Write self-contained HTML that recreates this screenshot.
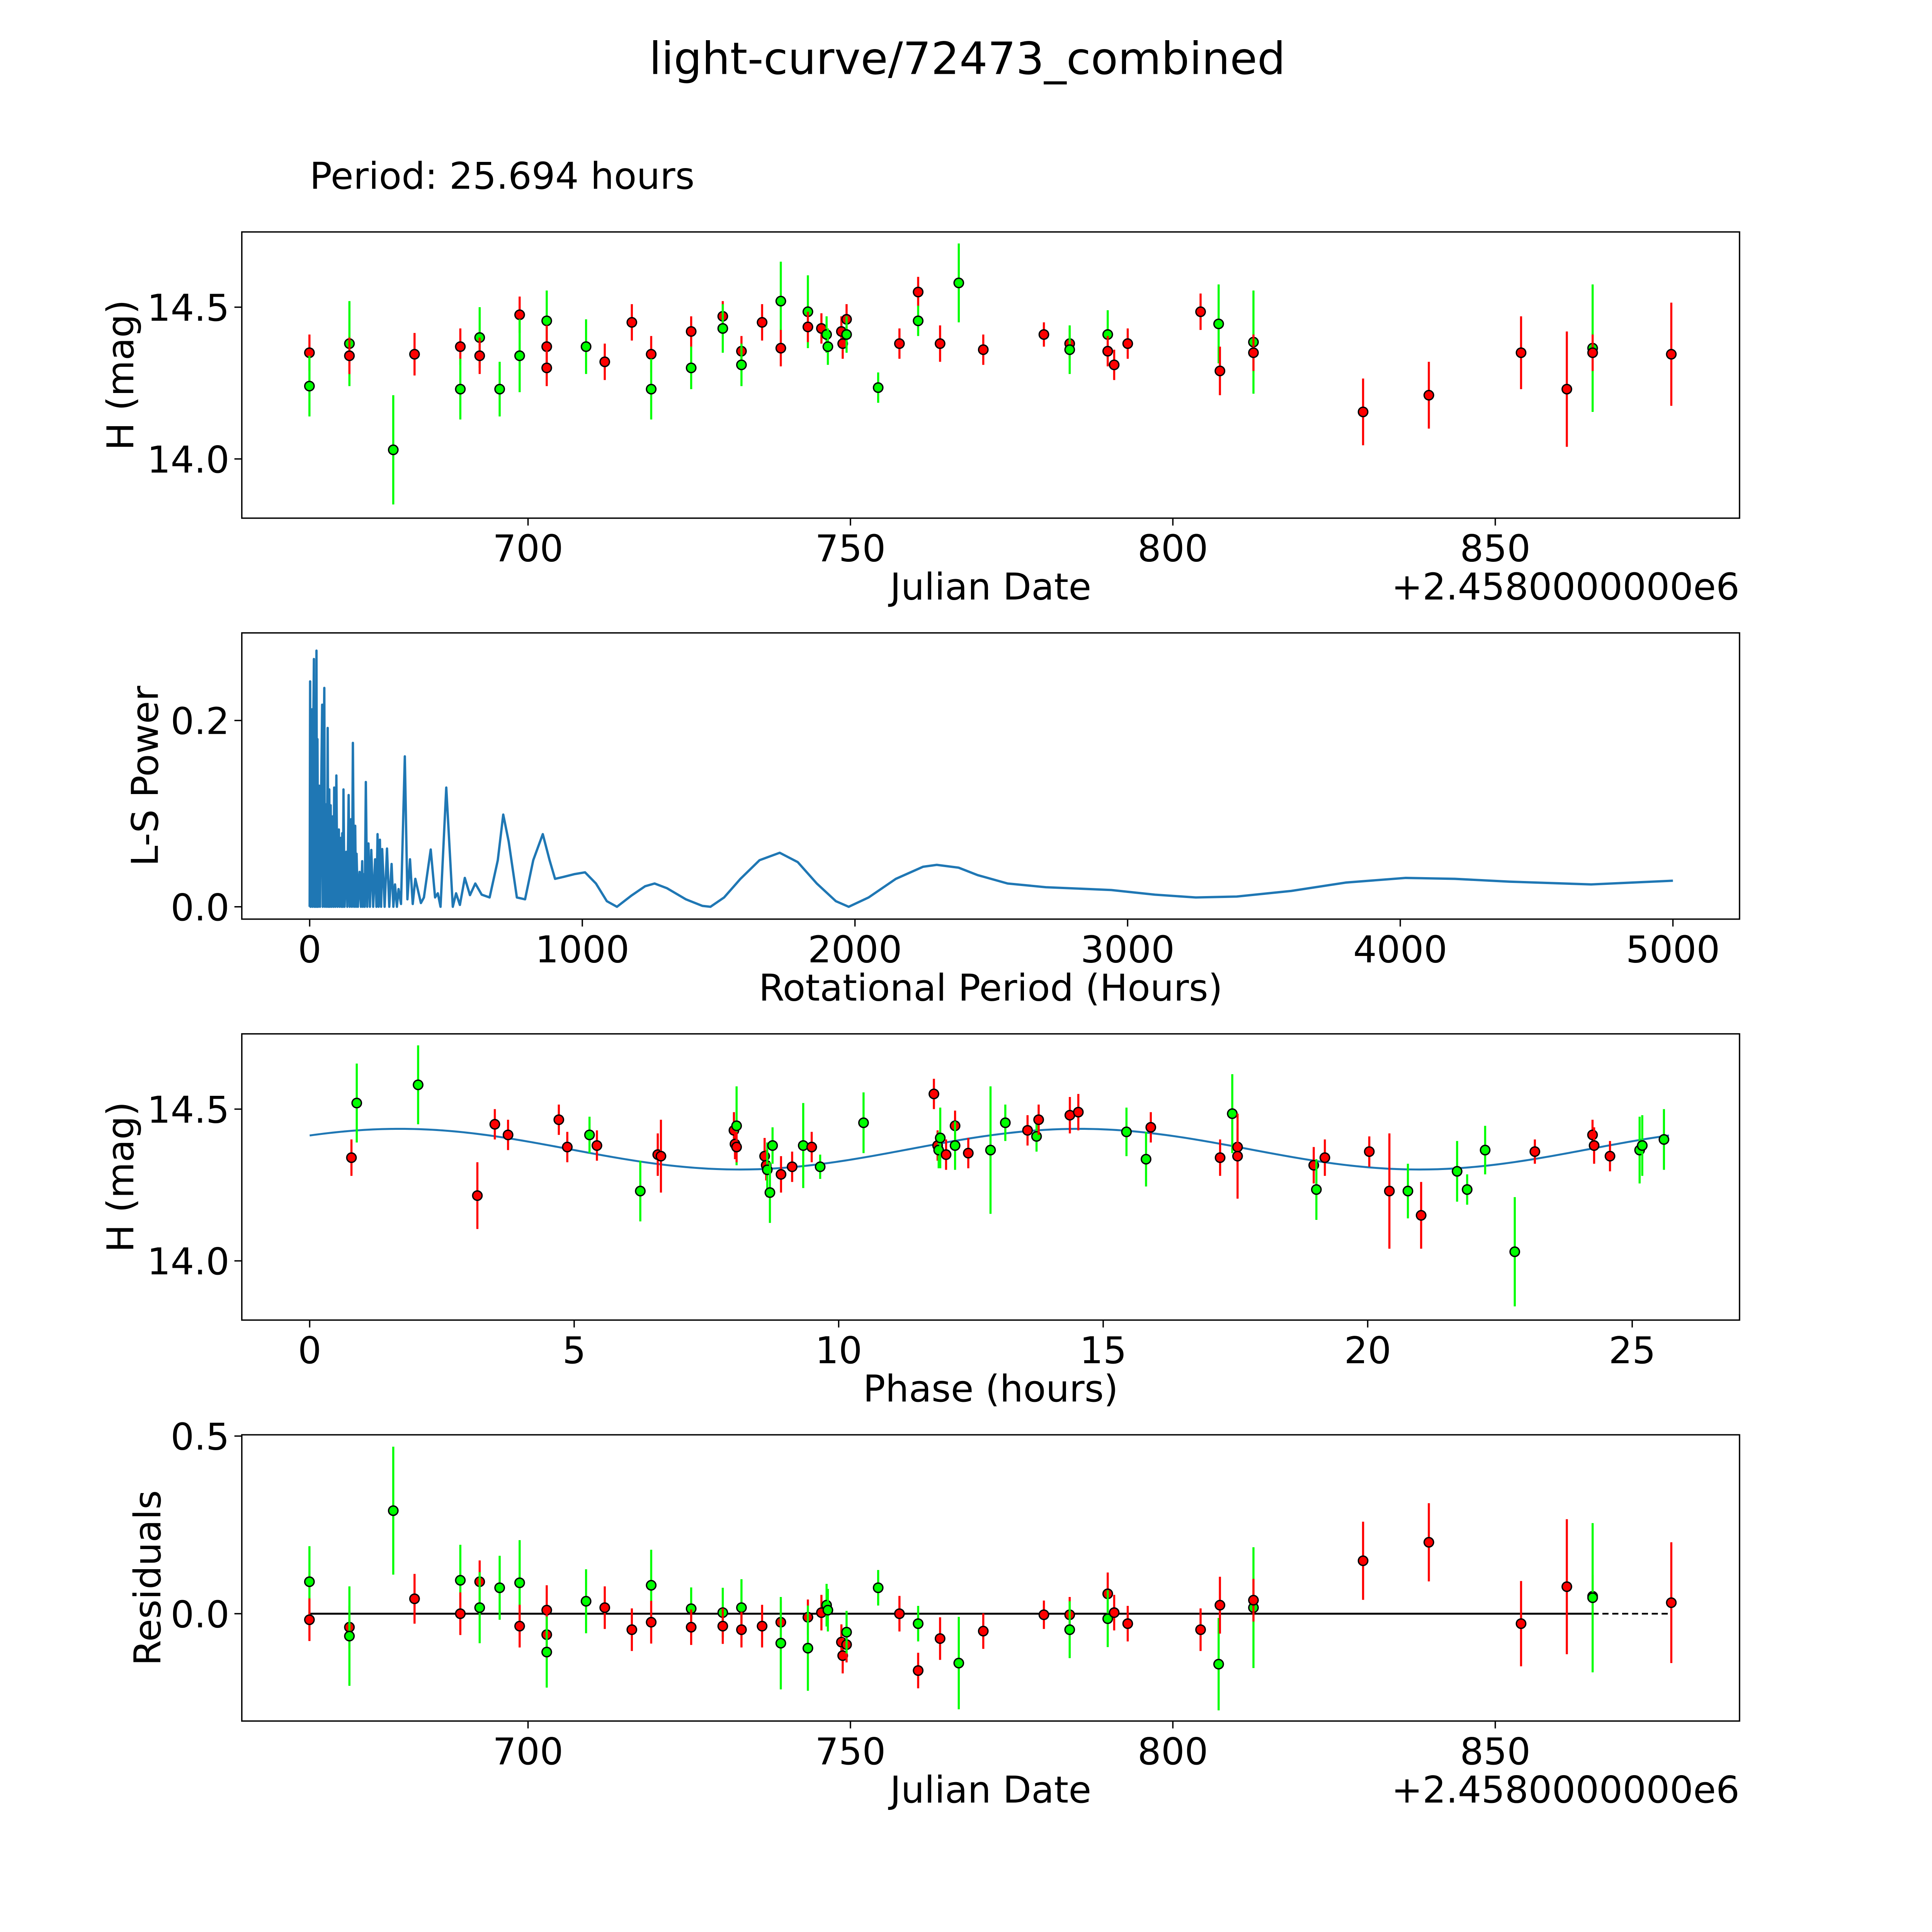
<!DOCTYPE html>
<html><head><meta charset="utf-8"><style>
html,body{margin:0;padding:0;background:#fff;overflow:hidden;width:100%;height:100%;}
svg{display:block;position:fixed;left:0;top:0;width:100vw;height:100vh;font-family:"DejaVu Sans","Liberation Sans",sans-serif;}
</style></head><body>
<svg id="fig" xmlns="http://www.w3.org/2000/svg" viewBox="0 0 1566 1566" preserveAspectRatio="none">
<rect x="0" y="0" width="1566" height="1566" fill="#fff"/>
<text x="784" y="60" font-size="36" text-anchor="middle">light-curve/72473_combined</text>
<text x="251" y="153" font-size="30">Period: 25.694 hours</text>
</svg>
<script>
// ---------- data ----------
const lcDates=[666.1,666.1,672.3,672.3,679.1,682.4,689.5,689.5,692.5,692.5,695.6,698.7,698.7,702.9,702.9,702.9,709.0,711.9,716.1,719.1,719.1,725.3,725.3,730.2,730.2,733.1,733.1,736.3,739.2,739.2,743.4,743.4,745.5,746.3,746.5,748.6,748.8,749.4,749.4,754.3,757.6,760.5,760.5,763.9,766.8,770.6,780.0,784.0,784.0,789.9,789.9,790.9,793.0,804.3,807.1,807.3,812.5,812.5,829.5,839.7,854.0,861.1,865.1,865.1,877.3];
const lcMags=[14.35,14.24,14.38,14.34,14.03,14.345,14.37,14.23,14.40,14.34,14.23,14.475,14.34,14.455,14.37,14.30,14.37,14.32,14.45,14.345,14.23,14.42,14.30,14.47,14.43,14.355,14.31,14.45,14.52,14.365,14.485,14.435,14.43,14.41,14.37,14.42,14.38,14.46,14.41,14.235,14.38,14.55,14.455,14.38,14.58,14.36,14.41,14.38,14.36,14.41,14.355,14.31,14.38,14.485,14.445,14.29,14.385,14.35,14.155,14.21,14.35,14.23,14.365,14.35,14.345];
const lcErr=[.06,.1,.14,.06,.18,.07,.06,.1,.1,.06,.09,.06,.12,.1,.07,.06,.09,.06,.06,.06,.1,.05,.07,.05,.08,.05,.07,.06,.13,.06,.12,.05,.05,.06,.06,.05,.05,.05,.06,.05,.05,.05,.05,.06,.13,.05,.04,.05,.08,.08,.05,.05,.05,.06,.13,.08,.17,.06,.11,.11,.12,.19,.21,.06,.17];
const lcColors=("rggrg"+"rrggr"+"grggr"+"rgrrr"+"grgrg"+"rgrgr"+"grrgg"+"rrrgg"+"rrgrg"+"rrrgg"+"rrrrg"+"rgrrr"+"rrgrr").split("");

const lsPeriods=[0,1.7,3,5,8.7,10,12,15.6,17,20,22,25,27,28.6,31,35,38,42,45.9,48,50,53.7,56,60,63,66,69,72,74,77,80,83.6,87,90,94,97.9,102,107,110,114,117,119.5,122,124,128,134,138,143,147,151.5,155,158.5,163,167,170,172,177,183,188,192.7,195,198,202,206,211,215.6,221,226,233,240,245,249,253,257.6,262,266,275,283.6,292,300.5,307,313,320,326,335,349,358.5,368,378,387.5,408,419,444,460,470,480,501,525,537,551,569,588,607.5,631,660,690,710,730,760,790,820,855,880,900,930,970,1010,1050,1090,1127,1180,1230,1265,1310,1380,1440,1470,1520,1580,1650,1724,1790,1860,1930,1977,2050,2150,2250,2300,2380,2450,2560,2700,2940,3100,3250,3400,3600,3800,4020,4200,4400,4700,5000];
const lsPowers=[0,0.242,0.0,0.19,0.212,0.0,0.15,0.266,0.0,0.14,0.0,0.275,0.0,0.18,0.0,0.13,0.0,0.12,0.217,0.0,0.12,0.235,0.0,0.11,0.0,0.192,0.0,0.126,0.0,0.109,0.0,0.097,0.0,0.128,0.0,0.141,0.0,0.083,0.0,0.074,0.0,0.079,0.0,0.126,0.0,0.059,0.0,0.12,0.0,0.094,0.0,0.176,0.0,0.087,0.0,0.057,0.0,0.0375,0.0,0.049,0.0,0.035,0.0,0.134,0.0,0.068,0.0,0.061,0.0,0.051,0.0,0.078,0.0,0.072,0.0,0.062,0.0,0.0625,0.0,0.046,0.0,0.024,0.0,0.019,0.003,0.1615,0.008,0.051,0.003,0.03,0.004,0.01,0.0615,0.01,0.0145,0.0,0.128,0.0,0.0145,0.002,0.031,0.0125,0.025,0.013,0.01,0.05,0.099,0.07,0.01,0.008,0.05,0.078,0.05,0.03,0.032,0.035,0.037,0.025,0.006,0.0,0.012,0.022,0.025,0.02,0.008,0.001,0.0,0.01,0.03,0.05,0.058,0.048,0.025,0.006,0.0,0.01,0.03,0.043,0.045,0.042,0.034,0.025,0.021,0.018,0.013,0.01,0.011,0.017,0.026,0.031,0.03,0.027,0.024,0.028];

const phHours=[0.79,0.89,2.05,3.17,3.5,3.75,4.71,4.87,5.29,5.43,6.25,6.58,6.64,8.02,8.04,8.07,8.07,8.6,8.63,8.65,8.7,8.75,8.91,9.12,9.33,9.49,9.65,10.47,11.8,11.87,11.89,11.92,12.03,12.2,12.2,12.45,12.87,13.15,13.57,13.74,13.78,14.37,14.53,15.44,15.81,15.9,17.21,17.44,17.54,17.54,18.98,19.03,19.19,20.03,20.41,20.76,21.01,21.69,21.88,22.22,22.78,23.16,24.25,24.28,24.58,25.14,25.19,25.6];
const phMags=[14.34,14.52,14.58,14.215,14.45,14.415,14.465,14.375,14.415,14.38,14.23,14.35,14.345,14.43,14.385,14.445,14.375,14.345,14.315,14.30,14.225,14.38,14.285,14.31,14.38,14.375,14.31,14.455,14.55,14.38,14.365,14.405,14.35,14.445,14.38,14.355,14.365,14.455,14.43,14.41,14.465,14.48,14.49,14.425,14.335,14.44,14.34,14.485,14.375,14.345,14.315,14.235,14.34,14.36,14.23,14.23,14.15,14.295,14.235,14.365,14.03,14.36,14.415,14.38,14.345,14.365,14.38,14.4];
const phColors=("rggrr"+"rrrgr"+"grrrr"+"grrrg"+"ggrrg"+"rggrr"+"ggrrg"+"rggrg"+"rrrgg"+"rrgrr"+"rgrrr"+"grggg"+"grrrr"+"ggg").split("");
const phErr=[.06,.13,.13,.11,.05,.05,.05,.05,.06,.05,.1,.07,.12,.06,.05,.13,.05,.06,.05,.09,.1,.06,.06,.05,.14,.05,.04,.1,.05,.05,.06,.1,.05,.05,.08,.05,.21,.06,.05,.05,.05,.06,.06,.08,.09,.05,.06,.13,.06,.14,.06,.1,.06,.05,.19,.09,.11,.1,.05,.08,.18,.04,.05,.06,.05,.11,.1,.1];
const fitMean=[14.368];
const fitAmp=[0.067];
const fitPeak=[1.7];
const fitPeriod=[25.694];

const resDates=lcDates.slice();
const resValues=[0.09,-0.017,-0.038,-0.063,0.29,0.042,0.094,0.0,0.09,0.017,0.073,0.087,-0.035,0.01,-0.059,-0.108,0.035,0.017,-0.045,0.08,-0.024,0.014,-0.038,0.003,-0.035,0.017,-0.045,-0.035,-0.024,-0.083,-0.01,-0.097,0.003,0.024,0.01,-0.08,-0.118,-0.087,-0.052,0.073,0.0,-0.028,-0.16,-0.07,-0.139,-0.049,-0.003,-0.003,-0.045,0.056,-0.014,0.003,-0.028,-0.045,-0.142,0.024,0.017,0.038,0.149,0.201,-0.028,0.076,0.049,0.045,0.031];
const resColors=("grrgg"+"rgrrg"+"ggrrr"+"ggrrg"+"rgrgr"+"grrrg"+"rgrgg"+"rrrgg"+"rgrrg"+"rrrgr"+"grrrg"+"rgrrr"+"rrrgr").split("");
const resErr=[.1,.06,.06,.14,.18,.07,.1,.06,.06,.1,.09,.12,.06,.07,.06,.1,.09,.06,.06,.1,.06,.06,.05,.07,.05,.08,.05,.06,.06,.13,.05,.12,.05,.06,.06,.05,.05,.05,.06,.05,.05,.05,.05,.06,.13,.05,.04,.05,.08,.06,.08,.05,.05,.06,.13,.08,.17,.06,.11,.11,.12,.19,.06,.21,.17];

const jdTicks=[700,750,800,850];
const magTicks=[14.0,14.5];
const lsXTicks=[0,1000,2000,3000,4000,5000];
const lsYTicks=[0.0,0.2];
const phXTicks=[0,5,10,15,20,25];
const resYTicks=[0.0,0.5];

// ---------- helpers ----------
const NS="http://www.w3.org/2000/svg";
const svg=document.getElementById("fig");
function mk(tag,attrs,parent){const e=document.createElementNS(NS,tag);for(const k in attrs)e.setAttribute(k,attrs[k]);(parent||svg).appendChild(e);return e;}
function lin(d0,d1,r0,r1){return v=>r0+(v-d0)*(r1-r0)/(d1-d0);}
const COL={r:"#ff0000",g:"#00ff00"};

function axes(name,top,xs,ys,xt,yt,xfmt,yfmt,xlabel,ylabel,ylabelX,offset){
  const L=196,R=1410,B=top+232;
  const g=mk("g",{});
  
  
  xt.forEach(v=>{const x=xs(v);
    const t=mk("line",{x1:x,x2:x,y1:B,y2:B+6,stroke:"#000","stroke-width":1.1},g);
    
    
    const l=mk("text",{x:x,y:B+35,"font-size":30,"text-anchor":"middle"},g);l.textContent=xfmt(v);
    
    
  });
  yt.forEach(v=>{const y=ys(v);
    const t=mk("line",{x1:L-6,x2:L,y1:y,y2:y,stroke:"#000","stroke-width":1.1},g);
    
    
    const l=mk("text",{x:L-10,y:y+11,"font-size":30,"text-anchor":"end"},g);l.textContent=yfmt(v);
    
    
  });
  const xl=mk("text",{x:803,y:B+66,"font-size":30,"text-anchor":"middle"},g);xl.textContent=xlabel;
  
  
  const cy=top+116;
  const yl=mk("text",{x:ylabelX,y:cy,"font-size":30,"text-anchor":"middle",transform:`rotate(-90 ${ylabelX} ${cy})`},g);yl.textContent=ylabel;
  
  
  if(offset){const o=mk("text",{x:R,y:B+66,"font-size":30,"text-anchor":"end"},g);o.textContent=offset;
    
    }
  return g;
}
function frame(name,top){
  const f=mk("rect",{x:196,y:top,width:1214,height:232,fill:"none",stroke:"#000","stroke-width":1.1});
  
  
}
function clip(id,top){const c=mk("clipPath",{id:id});mk("rect",{x:196,y:top,width:1214,height:232},c);}
function errPoints(name,xsArr,ysArr,errArr,colArr,xs,ys,clipId){
  const g=mk("g",{"clip-path":`url(#${clipId})`});
  
  
  xsArr.forEach((xv,i)=>{
    const x=xs(xv),y=ys(ysArr[i]),c=COL[colArr[i]];
    const b=mk("line",{x1:x,x2:x,y1:ys(ysArr[i]-errArr[i]),y2:ys(ysArr[i]+errArr[i]),stroke:c,"stroke-width":1.7},g);
    
    
    const p=mk("circle",{cx:x,cy:y,r:3.8,fill:c,stroke:"#000","stroke-width":1.1},g);
    
    
  });
}
const fmt1=v=>v.toFixed(1), fmt0=v=>String(v);

// ---------- panel 1 ----------
{const top=188;
 const xs=lin(700,850,428,1212), ys=lin(14.0,14.5,372,249);
 clip("c1",top);
 axes("lightcurve",top,xs,ys,jdTicks,magTicks,fmt0,fmt1,"Julian Date","H (mag)",108,"+2.4580000000e6");
 errPoints("lightcurve",lcDates,lcMags,lcErr,lcColors,xs,ys,"c1");
 frame("lightcurve",top);}

// ---------- panel 2 ----------
{const top=513;
 const xs=lin(0,5000,251,1356), ys=lin(0,0.2,735,584);
 clip("c2",top);
 axes("periodogram",top,xs,ys,lsXTicks,lsYTicks,fmt0,fmt1,"Rotational Period (Hours)","L-S Power",128,null);
 let d="";lsPeriods.forEach((p,i)=>{d+=(i?"L":"M")+xs(p).toFixed(2)+" "+ys(lsPowers[i]).toFixed(2);});
 const pth=mk("path",{d:d,fill:"none",stroke:"#1f77b4","stroke-width":1.9,"stroke-linejoin":"round","clip-path":"url(#c2)"});
 
 
 frame("periodogram",top);}

// ---------- panel 3 ----------
{const top=838;
 const xs=lin(0,25,251,1323), ys=lin(14.0,14.5,1022,899);
 clip("c3",top);
 axes("phase",top,xs,ys,phXTicks,magTicks,fmt0,fmt1,"Phase (hours)","H (mag)",108,null);
 let d="";for(let i=0;i<=300;i++){const t=fitPeriod[0]*i/300;
   const m=fitMean[0]+fitAmp[0]*Math.cos(2*Math.PI*(t-fitPeak[0])/(fitPeriod[0]/2));
   d+=(i?"L":"M")+xs(t).toFixed(2)+" "+ys(m).toFixed(2);}
 const fit=mk("path",{d:d,fill:"none",stroke:"#1f77b4","stroke-width":1.6,"clip-path":"url(#c3)"});
 
 
 errPoints("phase",phHours,phMags,phErr,phColors,xs,ys,"c3");
 frame("phase",top);}

// ---------- panel 4 ----------
{const top=1163;
 const xs=lin(700,850,428,1212), ys=lin(0,0.5,1308,1164);
 clip("c4",top);
 axes("residuals",top,xs,ys,jdTicks,resYTicks,fmt0,fmt1,"Julian Date","Residuals",130,"+2.4580000000e6");
 const x0=resDates[0], x1=resDates[resDates.length-1];
 const dl=mk("line",{x1:xs(x0),x2:xs(x1),y1:ys(0),y2:ys(0),stroke:"#000","stroke-width":1.4,"stroke-dasharray":"5 3"});
 
 
 const sl=mk("line",{x1:xs(x0),x2:xs(resDates[resDates.length-2]),y1:ys(0),y2:ys(0),stroke:"#000","stroke-width":1.6});
 
 
 errPoints("residuals",resDates,resValues,resErr,resColors,xs,ys,"c4");
 frame("residuals",top);}
</script>
</body></html>
